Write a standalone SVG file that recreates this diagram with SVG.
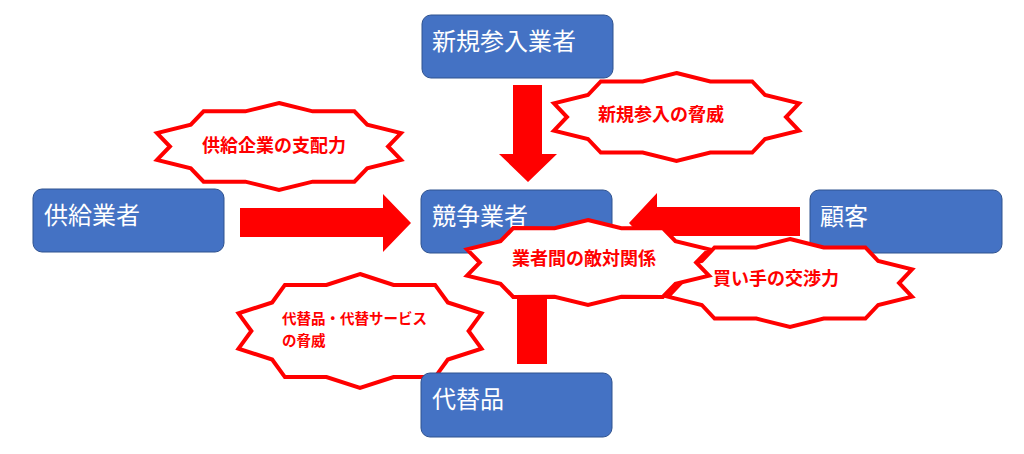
<svg xmlns="http://www.w3.org/2000/svg" xmlns:xlink="http://www.w3.org/1999/xlink" width="1024" height="454" viewBox="0 0 1024 454">
<style>
.box{fill:#4472C4;stroke:#2F528F;stroke-width:1}
.bt{fill:#FFFFFF;font-family:"Noto Sans CJK JP","Noto Sans CJK SC",sans-serif;font-size:24px;font-weight:400}
.arrow{fill:#FF0000;stroke:none}
.star{fill:#FFFFFF;stroke:#FF0000;stroke-width:4;stroke-linejoin:miter;vector-effect:non-scaling-stroke}
.st{fill:#FF0000;font-family:"Noto Sans CJK JP","Noto Sans CJK SC",sans-serif;font-size:18px;font-weight:700}
.st2{fill:#FF0000;font-family:"Noto Sans CJK JP","Noto Sans CJK SC",sans-serif;font-size:14.5px;font-weight:700}
</style>
<defs>
<polygon id="star10" class="star" points="0,-1 0.276,-0.808 0.618,-0.809 0.723,-0.5 1,-0.309 0.894,0 1,0.309 0.723,0.5 0.618,0.809 0.276,0.808 0,1 -0.276,0.808 -0.618,0.809 -0.723,0.5 -1,0.309 -0.894,0 -1,-0.309 -0.723,-0.5 -0.618,-0.809 -0.276,-0.808"/>
</defs>
<rect width="1024" height="454" fill="#FFFFFF"/>

<g id="node-shinki">
<rect class="box" x="422" y="15" width="191" height="63" rx="9"/>
<text class="bt" x="432" y="50">新規参入業者</text>
</g>
<g id="node-kyokyu">
<rect class="box" x="33" y="189" width="191" height="63" rx="9"/>
<text class="bt" x="44" y="224">供給業者</text>
</g>
<g id="node-kyoso">
<rect class="box" x="421" y="190" width="191" height="63" rx="9"/>
<text class="bt" x="432" y="225">競争業者</text>
</g>
<g id="node-kokyaku">
<rect class="box" x="810" y="190" width="192" height="63" rx="9"/>
<text class="bt" x="820" y="225">顧客</text>
</g>

<g id="connectors">
<polygon class="arrow" points="513,85 542,85 542,154 557,154 528,182 499,154 513,154"/>
<polygon class="arrow" points="240,208 383,208 383,194 411,223 383,252 383,237 240,237"/>
<polygon class="arrow" points="800,207 657,207 657,193 629,223 657,253 657,236 800,236"/>
<polygon class="arrow" points="517,364 517,283 503,283 532,254 561,283 547,283 547,364"/>
</g>

<g id="star-kyokyu">
<use xlink:href="#star10" href="#star10" transform="translate(279,146.5) scale(122,43.5)"/>
<text class="st" x="202" y="152">供給企業の支配力</text>
</g>
<g id="star-shinki">
<use xlink:href="#star10" href="#star10" transform="translate(676.5,117) scale(122.5,44)"/>
<text class="st" x="598" y="121">新規参入の脅威</text>
</g>
<g id="star-kaite">
<use xlink:href="#star10" href="#star10" transform="translate(790,283) scale(122,44)"/>
<text class="st" x="713" y="285">買い手の交渉力</text>
</g>
<g id="star-kyoso">
<use xlink:href="#star10" href="#star10" transform="translate(588,262.5) scale(121,42.5)"/>
<text class="st" x="512" y="265">業者間の敵対関係</text>
</g>
<g id="star-daitai">
<use xlink:href="#star10" href="#star10" transform="translate(360,331) scale(121.5,57)"/>
<text class="st2" x="282" y="324">代替品・代替サービス</text>
<text class="st2" x="282" y="346">の脅威</text>
</g>

<g id="node-daitai">
<rect class="box" x="421" y="373" width="191" height="64" rx="9"/>
<text class="bt" x="432" y="408">代替品</text>
</g>
</svg>
